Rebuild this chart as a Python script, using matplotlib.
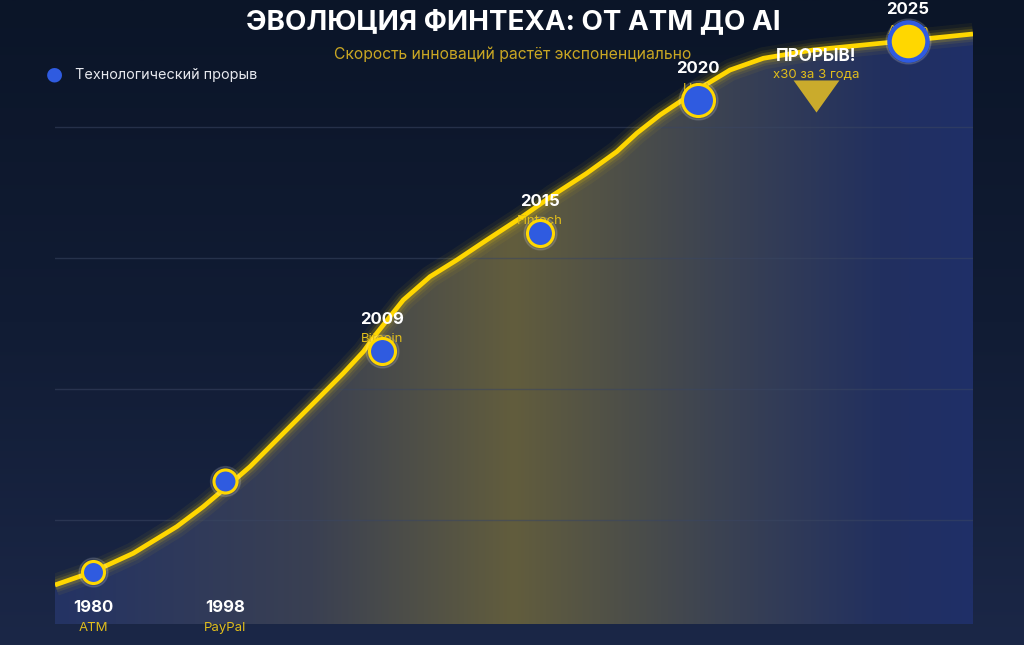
import numpy as np
import matplotlib.pyplot as plt
from matplotlib.colors import LinearSegmentedColormap
from matplotlib.path import Path

plt.rcParams['font.family'] = ['Inter', 'DejaVu Sans']

# Кривая роста (условный индекс инноваций)
curve_x = [0.00, 4.17, 8.53, 13.26, 16.15, 18.52, 21.24, 24.87, 28.50, 31.40, 33.58,
           35.04, 37.94, 40.85, 43.76, 47.03, 50.65, 54.28, 57.92, 61.19, 63.37,
           65.90, 68.08, 70.48, 73.53, 77.16, 82.60, 88.05, 93.50, 100]
curve_y = [10.08, 12.11, 14.92, 18.98, 22.03, 24.84, 28.14, 33.24, 38.32, 42.40, 45.69,
           48.50, 53.59, 57.15, 59.69, 62.75, 66.06, 69.62, 72.93, 76.23, 79.04,
           81.83, 83.86, 86.11, 88.70, 90.49, 91.76, 92.52, 93.28, 94.20]

# Вехи
years = ['1980', '1998', '2009', '2015', '2020', '2025']
techs = ['ATM', 'PayPal', 'Bitcoin', 'Fintech', 'ЦФА', 'AI-эра']
pos_x = [4.14, 18.52, 35.62, 52.83, 70.04, 92.92]
pos_y = [12.06, 25.95, 45.8, 63.8, 84.1, 93.1]
label_below = [True, True, False, False, False, False]
marker_px = [22, 23, 26, 26, 32, 38]

# Выноска "прорыв"
burst_x = [82.9]
burst_y = [84.66]

grid_vals = [20, 40, 60, 80]

W, H = 1024, 645
fig = plt.figure(figsize=(W / 100, H / 100), dpi=100)

# фон - вертикальный градиент
bg = fig.add_axes([0, 0, 1, 1], zorder=0)
bg_cmap = LinearSegmentedColormap.from_list('bg', ['#0b1528', '#111c34', '#1b2747'])
bg.imshow(np.linspace(0, 1, 256).reshape(-1, 1), cmap=bg_cmap, aspect='auto',
          extent=[0, 1, 0, 1], origin='upper')
bg.axis('off')

ax = fig.add_axes([55 / W, 21 / H, 918 / W, 624 / H], zorder=1)
ax.set_facecolor('none')
ax.set_xlim(0, 100)
ax.set_ylim(4.12, 99.39)
for s in ax.spines.values():
    s.set_visible(False)
ax.set_xticks([])
ax.set_yticks([])

for g in grid_vals:
    ax.axhline(g, color='#3a4662', lw=1, alpha=0.55, zorder=1)

# заливка под кривой с горизонтальным градиентом
fill = ax.fill_between(curve_x, 4.12, curve_y, color='none', lw=0)
fill_cmap = LinearSegmentedColormap.from_list(
    'fill', [(0, '#243364'), (0.28, '#3a4052'), (0.5, '#625d3d'),
             (0.72, '#3c4352'), (0.9, '#22305f'), (1, '#1f2f68')])
im = ax.imshow(np.linspace(0, 1, 512).reshape(1, -1), cmap=fill_cmap, aspect='auto',
               extent=[0, 100, 4.12, 99.39], zorder=0.5)
im.set_clip_path(fill.get_paths()[0], transform=ax.transData)

# линия со свечением
for lw, a in [(16, 0.05), (11, 0.08), (7.5, 0.15)]:
    ax.plot(curve_x, curve_y, color='#ffd700', lw=lw, alpha=a, solid_capstyle='butt',
            solid_joinstyle='round', zorder=2)
ax.plot(curve_x, curve_y, color='#ffd700', lw=3.4, solid_capstyle='butt',
        solid_joinstyle='round', zorder=3)

# маркеры
for i in range(len(years)):
    d = marker_px[i] * 0.72
    ax.plot(pos_x[i], pos_y[i], 'o', ms=d + 5, color='#ffffff', alpha=0.12, zorder=4)
    if i == len(years) - 1:
        ax.plot(pos_x[i], pos_y[i], 'o', ms=d, mfc='#ffd700', mec='#2f5be0', mew=3.2, zorder=5)
    else:
        ax.plot(pos_x[i], pos_y[i], 'o', ms=d, mfc='#2f5be0', mec='#ffd700', mew=2.2, zorder=5)

    if label_below[i]:
        # подписи внизу графика
        ax.annotate(years[i], (pos_x[i], 17), xycoords=('data', 'axes pixels'),
                    ha='center', va='center', color='white', fontsize=12,
                    fontweight='bold', zorder=6, annotation_clip=False)
        ax.annotate(techs[i], (pos_x[i], -4), xycoords=('data', 'axes pixels'),
                    ha='center', va='center', color='#e0bd1c', fontsize=9.5,
                    zorder=6, annotation_clip=False)
        continue
    dy_tech = 10 if i == len(years) - 1 else 12
    ax.annotate(years[i], (pos_x[i], pos_y[i]), xytext=(0, 32), textcoords='offset pixels',
                ha='center', va='center', color='white', fontsize=12, fontweight='bold', zorder=6)
    ax.annotate(techs[i], (pos_x[i], pos_y[i]), xytext=(0, dy_tech), textcoords='offset pixels',
                ha='center', va='center', color='#e0bd1c', fontsize=9.5, zorder=4.5)

# выноска
tri = Path([(-1, 0.7), (1, 0.7), (0, -0.7), (-1, 0.7)],
           [Path.MOVETO, Path.LINETO, Path.LINETO, Path.CLOSEPOLY])
ax.scatter(burst_x, burst_y, marker=tri, s=33 ** 2, color='#d4b22a', alpha=0.95, lw=0, zorder=4)
ax.annotate('ПРОРЫВ!', (burst_x[0], burst_y[0]), xytext=(0, 40), textcoords='offset pixels',
            ha='center', va='center', color='white', fontsize=12.3, fontweight='bold', zorder=6)
ax.annotate('x30 за 3 года', (burst_x[0], burst_y[0]), xytext=(0, 21), textcoords='offset pixels',
            ha='center', va='center', color='#e0bd1c', fontsize=9.5, zorder=6)

# заголовки
fig.text(513 / W, 1 - 22 / H, 'ЭВОЛЮЦИЯ ФИНТЕХА: ОТ ATM ДО AI', ha='center', va='center',
         color='white', fontsize=20, fontweight='bold', zorder=10)
fig.text(513 / W, 1 - 54 / H, 'Скорость инноваций растёт экспоненциально', ha='center',
         va='center', color='#c9a623', fontsize=11.3, zorder=10)

# легенда
fig.text(54 / W, 1 - 74 / H, '●', ha='center', va='center', color='#2f5be0', fontsize=14,
         family='DejaVu Sans', zorder=10)
fig.text(75 / W, 1 - 75 / H, 'Технологический прорыв', ha='left', va='center',
         color='#e6e8ee', fontsize=10.4, zorder=10)

fig.savefig('out.png', dpi=100)
